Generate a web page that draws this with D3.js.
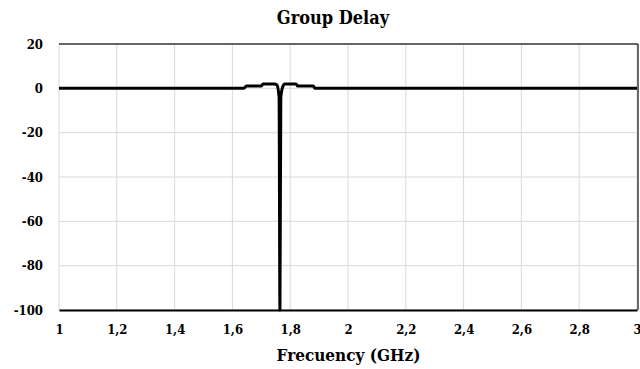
<!DOCTYPE html>
<html>
<head>
<meta charset="utf-8">
<script src="https://cdn.jsdelivr.net/npm/d3@7"></script>
<style>
  body { margin: 0; background: #fff; }
</style>
</head>
<body>
<div id="chart"></div>
<script>
// Data
const freq  = [1, 1.640, 1.648, 1.700, 1.706, 1.745, 1.754, 1.7615, 1.7645, 1.7675, 1.775, 1.781, 1.820, 1.826, 1.880, 1.886, 3];
const delay = [0, 0,     1,     1,     2,     2,     1.5,   -4,     -100,   -4,     1,     2,     2,     1,     1,     0,     0];
const xTicks = [1, 1.2, 1.4, 1.6, 1.8, 2, 2.2, 2.4, 2.6, 2.8, 3];
const yTicks = [20, 0, -20, -40, -60, -80, -100];

const W = 640, H = 369;
const margin = {top: 44, right: 2, bottom: 59, left: 59};
const width = W - margin.left - margin.right,
      height = H - margin.top - margin.bottom;
const fontFamily = "'DejaVu Serif Condensed', 'DejaVu Serif', serif";

const svg = d3.select("#chart").append("svg")
    .attr("width", W)
    .attr("height", H);

const g = svg.append("g")
    .attr("transform", `translate(${margin.left},${margin.top})`);

const x = d3.scaleLinear().domain([1, 3]).range([0, width - 1]);
const y = d3.scaleLinear().domain([-100, 20]).range([height, 0]);

// Gridlines
g.append("g")
  .selectAll("line")
  .data(xTicks)
  .join("line")
    .attr("x1", d => x(d)).attr("x2", d => x(d))
    .attr("y1", 0).attr("y2", height)
    .attr("stroke", "#d9d9d9").attr("stroke-width", 1);

g.append("g")
  .selectAll("line")
  .data(yTicks)
  .join("line")
    .attr("x1", 0).attr("x2", width)
    .attr("y1", d => y(d)).attr("y2", d => y(d))
    .attr("stroke", "#d9d9d9").attr("stroke-width", 1);

// Plot frame: top and right dark, bottom black
g.append("line").attr("x1", 0).attr("x2", width).attr("y1", 0).attr("y2", 0)
  .attr("stroke", "#3a3a3a").attr("stroke-width", 1.5);
g.append("line").attr("x1", width).attr("x2", width).attr("y1", 0).attr("y2", height)
  .attr("stroke", "#3a3a3a").attr("stroke-width", 1.5);

// Axes
const xAxis = g.append("g")
    .attr("transform", `translate(0,${height})`)
    .call(d3.axisBottom(x).tickValues(xTicks).tickSize(0).tickPadding(15)
      .tickFormat(d => String(d).replace(".", ",")));
xAxis.select(".domain").attr("stroke", "#000").attr("stroke-width", 2);
xAxis.selectAll("text").attr("font-size", 13).attr("fill", "#000")
    .attr("font-family", fontFamily).attr("font-weight", "bold");

const yAxis = g.append("g")
    .call(d3.axisLeft(y).tickValues(yTicks).tickSize(0).tickPadding(16)
      .tickFormat(d => String(d)));
yAxis.select(".domain").remove();
yAxis.selectAll("text").attr("font-size", 13).attr("fill", "#000")
    .attr("font-family", fontFamily).attr("font-weight", "bold");

// Series
const line = d3.line()
    .x(d => x(d[0]))
    .y(d => y(d[1]))
    .curve(d3.curveMonotoneX);

g.append("path")
    .datum(d3.zip(freq, delay))
    .attr("fill", "none")
    .attr("stroke", "#000")
    .attr("stroke-width", 3)
    .attr("stroke-linejoin", "round")
    .attr("d", line);

// Titles
svg.append("text")
    .attr("x", 333)
    .attr("y", 24)
    .attr("text-anchor", "middle")
    .attr("font-size", 18)
    .attr("font-weight", "bold")
    .attr("font-family", fontFamily)
    .text("Group Delay");

svg.append("text")
    .attr("x", margin.left + width / 2)
    .attr("y", 361)
    .attr("text-anchor", "middle")
    .attr("font-size", 17)
    .attr("font-weight", "bold")
    .attr("font-family", fontFamily)
    .text("Frecuency (GHz)");
</script>
</body>
</html>
